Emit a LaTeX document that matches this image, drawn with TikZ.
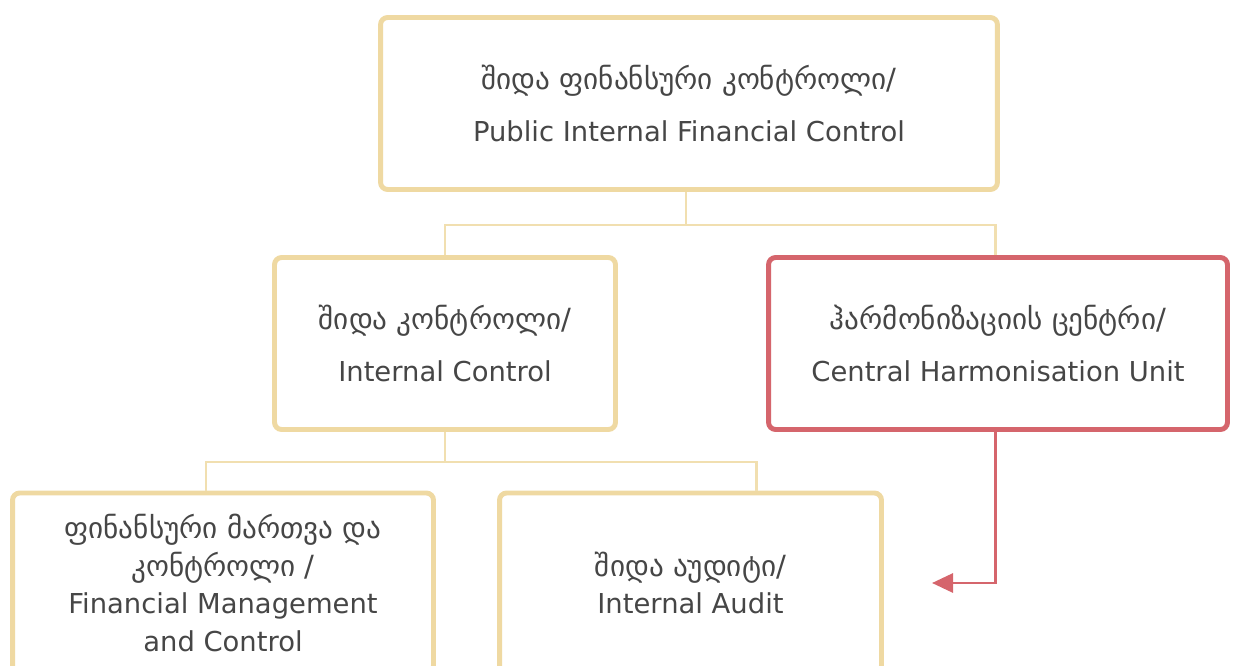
\documentclass[tikz,border=0pt]{standalone}
\usepackage{fontspec}
\setmainfont{DejaVu Sans}
\usetikzlibrary{arrows.meta,positioning}
\definecolor{sand}{HTML}{EFD9A2}
\definecolor{rosered}{HTML}{D5656C}
\definecolor{inkgray}{HTML}{464646}
\newcommand{\ka}{\fontsize{16.6}{\baselineskip}\selectfont}

\begin{document}
\begin{tikzpicture}[x=0.02cm, y=-0.02cm,
  unit/.style={rectangle, draw=sand, line width=2.8pt, rounded corners=4pt, fill=white, align=center, text=inkgray, inner sep=0pt, font=\fontsize{15.6}{29.5}\selectfont},
  hub/.style={unit, draw=rosered},
  low/.style={unit, font=\fontsize{15.6}{21.5}\selectfont},
  link/.style={draw=sand!85, line width=1.7pt},
  feed/.style={draw=rosered, line width=1.7pt, -{Triangle[length=4.2mm, width=3.8mm]}}]
  \useasboundingbox (0,0) rectangle (1238,666);
  \clip (0,0) rectangle (1238,666);
  % top level
  \node[unit, minimum width=12.34cm, minimum height=3.44cm] (pifc) at (689,103.5) {{\ka შიდა ფინანსური კონტროლი/}\\Public Internal Financial Control};
  % second level
  \node[unit, minimum width=6.82cm, minimum height=3.44cm] (ic) at (445,343.5) {{\ka შიდა კონტროლი/}\\Internal Control};
  \node[hub, minimum width=9.18cm, minimum height=3.44cm] (chu) at (998,343.5) {{\ka ჰარმონიზაციის ცენტრი/}\\Central Harmonisation Unit};
  % third level
  \node[low, minimum width=8.42cm, minimum height=3.6cm] (fmc) at (223,583) {{\ka ფინანსური მართვა და}\\{\ka კონტროლი /}\\Financial Management\\and Control};
  \node[low, minimum width=7.64cm, minimum height=3.6cm] (ia) at (690.5,583) {{\ka შიდა აუდიტი/}\\Internal Audit};
  % connectors
  \coordinate (fork1) at (686,225);
  \coordinate (fork2) at (445,462);
  \coordinate (legL) at (206,492);
  \coordinate (legR) at (756,492);
  \coordinate (legC) at (995,300);
  \coordinate (target) at (932,583);
  \draw[link] (pifc.south -| fork1) -- (fork1);
  \draw[link] (ic.north) |- (fork1) -| (chu.north -| legC);
  \draw[link] (ic.south) -- (fork2);
  \draw[link] (fmc.north -| legL) |- (fork2) -| (ia.north -| legR);
  \draw[feed] (chu.south -| legC) |- (target);
\end{tikzpicture}
\end{document}
